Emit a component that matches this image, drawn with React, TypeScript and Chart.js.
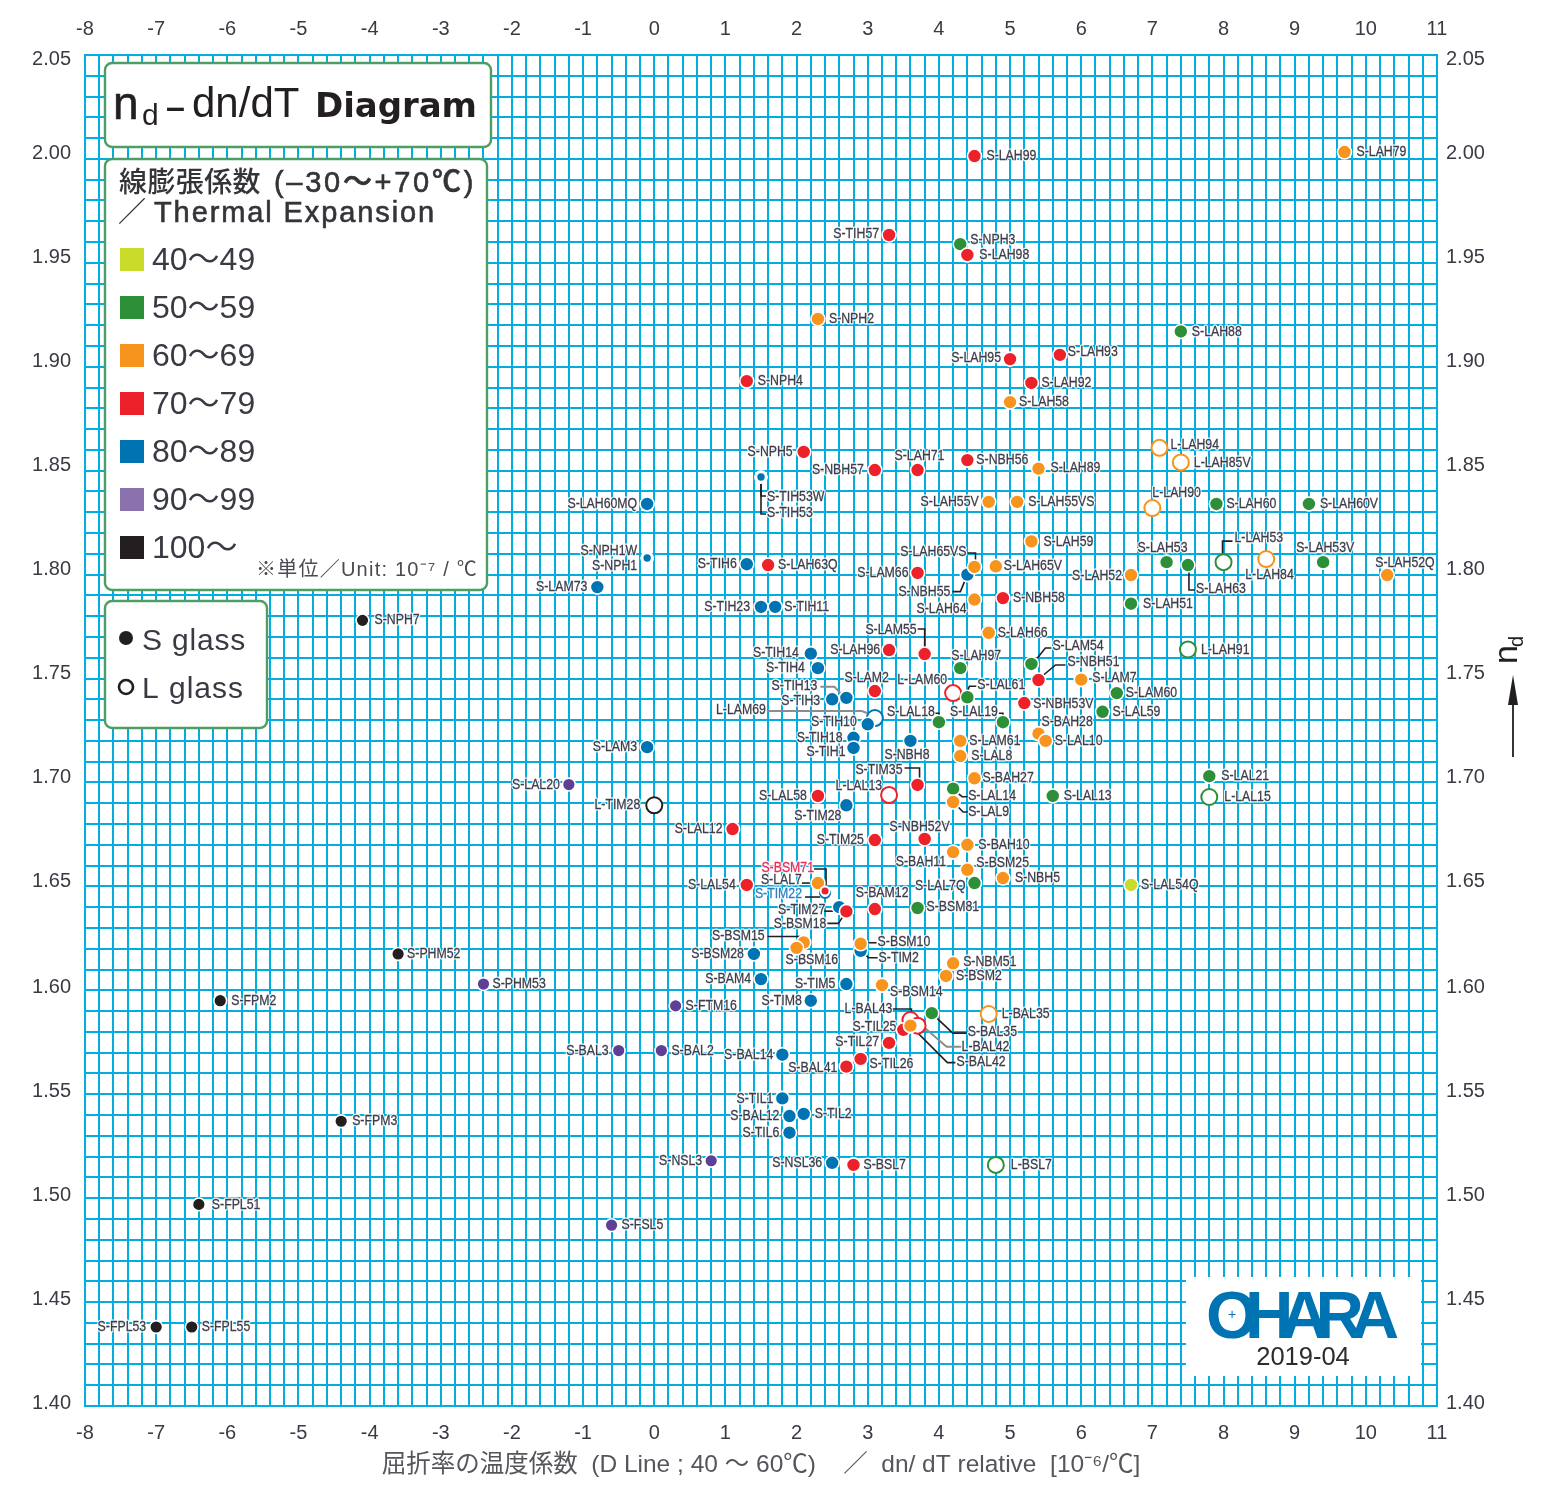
import React, { useEffect, useRef } from "react";
import { Chart, registerables } from "chart.js";

Chart.register(...registerables);

type Glass = [string, number, number]; // name, dn/dT relative, nd

const sExp40: Glass[] = [["S-LAL54Q", 6.7, 1.6507]];

const sExp50: Glass[] = [
  ["S-NPH3", 4.3, 1.959], ["S-LAH88", 7.4, 1.917], ["S-LAH60", 7.9, 1.834], ["S-LAH60V", 9.2, 1.834],
  ["S-LAH53", 7.2, 1.806], ["S-LAH63", 7.5, 1.8046], ["S-LAH53V", 9.4, 1.806], ["S-LAH51", 6.7, 1.786],
  ["S-LAM54", 5.3, 1.757], ["S-LAH97", 4.3, 1.755], ["S-LAL61", 4.4, 1.741], ["S-LAM60", 6.5, 1.743],
  ["S-LAL59", 6.3, 1.734], ["S-LAL18", 4.0, 1.729], ["S-LAL19", 4.9, 1.729], ["S-LAL21", 7.8, 1.703],
  ["S-LAL14", 4.2, 1.697], ["S-LAL13", 5.6, 1.6935], ["S-LAL7Q", 4.5, 1.6516], ["S-BSM81", 3.7, 1.6396],
  ["S-BAL35", 3.9, 1.589],
];

const sExp60: Glass[] = [
  ["S-LAH79", 9.7, 2.0033], ["S-NPH2", 2.3, 1.923], ["S-LAH58", 5.0, 1.883], ["S-LAH89", 5.4, 1.851],
  ["S-LAH55V", 4.7, 1.835], ["S-LAH55VS", 5.1, 1.835], ["S-LAH59", 5.3, 1.816], ["S-LAH65VS", 4.5, 1.8037],
  ["S-LAH65V", 4.8, 1.804], ["S-LAH64", 4.5, 1.788], ["S-LAH66", 4.7, 1.772], ["S-LAH52", 6.7, 1.7998],
  ["S-LAH52Q", 10.3, 1.7998], ["S-LAM7", 6.0, 1.7495], ["S-BAH28", 5.4, 1.7235], ["S-LAL10", 5.5, 1.72],
  ["S-LAM61", 4.3, 1.72], ["S-LAL8", 4.3, 1.7127], ["S-BAH27", 4.5, 1.702], ["S-LAL9", 4.2, 1.6906],
  ["S-BAH10", 4.4, 1.67], ["S-BAH11", 4.2, 1.6665], ["S-BSM25", 4.4, 1.658], ["S-NBH5", 4.9, 1.654],
  ["S-LAL7", 2.3, 1.6516], ["S-BSM15", 2.1, 1.623], ["S-BSM16", 2.0, 1.6204], ["S-BSM10", 2.9, 1.6224],
  ["S-NBM51", 4.2, 1.613], ["S-BSM2", 4.1, 1.6069], ["S-BSM14", 3.2, 1.6025], ["S-BAL42", 3.6, 1.583],
];

const sExp70: Glass[] = [
  ["S-LAH99", 4.5, 2.0014], ["S-TIH57", 3.3, 1.9634], ["S-LAH98", 4.4, 1.9538], ["S-NPH4", 1.3, 1.8931],
  ["S-LAH95", 5.0, 1.9037], ["S-LAH93", 5.7, 1.9057], ["S-LAH92", 5.3, 1.8922], ["S-NPH5", 2.1, 1.859],
  ["S-NBH57", 3.1, 1.8503], ["S-LAH71", 3.7, 1.8503], ["S-NBH56", 4.4, 1.8551], ["S-LAH63Q", 1.6, 1.8046],
  ["S-LAM66", 3.7, 1.8008], ["S-NBH58", 4.9, 1.7887], ["S-LAH96", 3.3, 1.7637], ["S-LAM55", 3.8, 1.7618],
  ["S-NBH51", 5.4, 1.7493], ["S-LAM2", 3.1, 1.744], ["S-NBH53V", 5.2, 1.7382], ["S-LAL58", 2.3, 1.6935],
  ["S-TIM35", 3.7, 1.6988], ["S-LAL12", 1.1, 1.6776], ["S-NBH52V", 3.8, 1.6728], ["S-TIM25", 3.1, 1.6723],
  ["S-LAL54", 1.3, 1.6507], ["S-BAM12", 3.1, 1.6391], ["S-BSM18", 2.7, 1.638], ["S-TIL25", 3.5, 1.581],
  ["S-TIL27", 3.3, 1.5747], ["S-TIL26", 2.9, 1.567], ["S-BAL41", 2.7, 1.5633], ["S-BSL7", 2.8, 1.516],
];

const sExp80: Glass[] = [
  ["S-LAH60MQ", -0.1, 1.834], ["S-LAM73", -0.8, 1.794], ["S-TIH6", 1.3, 1.805], ["S-TIH23", 1.5, 1.7845],
  ["S-TIH11", 1.7, 1.7845], ["S-NBH55", 4.4, 1.8], ["S-TIH14", 2.2, 1.762], ["S-TIH4", 2.3, 1.755],
  ["S-TIH3", 2.5, 1.74], ["S-TIH13", 2.7, 1.7407], ["S-TIH10", 3.0, 1.728], ["S-TIH18", 2.8, 1.7215],
  ["S-TIH1", 2.8, 1.7166], ["S-NBH8", 3.6, 1.72], ["S-LAM3", -0.1, 1.717], ["S-TIM28", 2.7, 1.689],
  ["S-TIM27", 2.6, 1.64], ["S-BSM28", 1.4, 1.6175], ["S-TIM2", 2.9, 1.619], ["S-BAM4", 1.5, 1.6054],
  ["S-TIM5", 2.7, 1.603], ["S-TIM8", 2.2, 1.595], ["S-BAL14", 1.8, 1.569], ["S-TIL1", 1.8, 1.548],
  ["S-BAL12", 1.9, 1.5395], ["S-TIL2", 2.1, 1.5405], ["S-TIL6", 1.9, 1.5315], ["S-NSL36", 2.5, 1.517],
];

const sExp90: Glass[] = [
  ["S-LAL20", -1.2, 1.699], ["S-PHM53", -2.4, 1.603], ["S-FTM16", 0.3, 1.5925], ["S-BAL3", -0.5, 1.571],
  ["S-BAL2", 0.1, 1.571], ["S-NSL3", 0.8, 1.518], ["S-FSL5", -0.6, 1.487],
];

const sExp100: Glass[] = [
  ["S-NPH7", -4.1, 1.778], ["S-PHM52", -3.6, 1.6175], ["S-FPM2", -6.1, 1.595], ["S-FPM3", -4.4, 1.537],
  ["S-FPL51", -6.4, 1.497], ["S-FPL53", -7.0, 1.438], ["S-FPL55", -6.5, 1.438],
];

const sTiny70: Glass[] = [["S-BSM71", 2.4, 1.6478]];
const sTiny80: Glass[] = [
  ["S-TIH53W", 1.5, 1.847], ["S-TIH53", 1.5, 1.847], ["S-NPH1W", -0.1, 1.808], ["S-NPH1", -0.1, 1.808],
];

const lExp50: Glass[] = [
  ["L-LAH53", 8.0, 1.806], ["L-LAH91", 7.5, 1.764], ["L-LAL15", 7.8, 1.693], ["L-BSL7", 4.8, 1.516],
];
const lExp60: Glass[] = [
  ["L-LAH94", 7.1, 1.861], ["L-LAH85V", 7.4, 1.854], ["L-LAH90", 7.0, 1.832], ["L-LAH84", 8.6, 1.8075],
  ["L-BAL35", 4.7, 1.5886],
];
const lExp70: Glass[] = [
  ["L-LAM60", 4.2, 1.743], ["L-LAL13", 3.3, 1.694], ["L-BAL43", 3.6, 1.5857], ["L-BAL42", 3.7, 1.583],
];
const lExp80: Glass[] = [["L-LAM69", 3.1, 1.731]];
const lTiny80: Glass[] = [["S-TIM22", 2.4, 1.6468]];
const lExp100: Glass[] = [["L-TIM28", 0, 1.689]];

const expansionClasses = ["40～49", "50～59", "60～69", "70～79", "80～89", "90～99", "100～"];

// ---------- styles and layout (kept apart from the values) ----------
const COLORS = {
  c40: "#cadb2a", c50: "#2d9039", c60: "#f7941e", c70: "#ed2129", c80: "#0073b2",
  c90: "#5f3f96", c100: "#231f20", grid: "#00aee0", text: "#333338", panel: "#4c9e63",
};
const legendSwatches = ["#cadb2a", "#2d9039", "#f7941e", "#ed2129", "#0073b2", "#8a72ae", "#231f20"];
const AREA = { left: 85, top: 55, right: 1437, bottom: 1406 };
const SANS = '"Liberation Sans", "Noto Sans CJK JP", sans-serif';
const CJK = '"Noto Sans CJK JP", "Liberation Sans", sans-serif';

// tick label nudges on the y axes, in px
const yLabelShift: Record<string, number> = {
  "2.05": 4, "2.00": -5.5, "1.95": -5.5, "1.90": -5.5, "1.85": -5.5, "1.80": -5.6, "1.75": -5.5, "1.70": -5,
  "1.65": -5.4, "1.60": -3, "1.55": -3, "1.50": -3, "1.45": -3, "1.40": -3,
};

// name: [side the text grows from, dx, dy] relative to the marker
type Place = ["l" | "r", number, number];
const labelPlace: Record<string, Place> = {
  "S-NPH7": ["l", 12, 0], "S-PHM52": ["l", 9, 0], "S-FPM2": ["l", 11, 0], "S-FPM3": ["l", 11, 0],
  "S-FPL51": ["l", 13, 0], "S-FPL53": ["r", -10, 0], "S-FPL55": ["l", 10, 0], "L-TIM28": ["r", -14, 0],
  "S-LAL20": ["r", -9, 0], "S-PHM53": ["l", 9, 0], "S-FTM16": ["l", 10, 0], "S-BAL3": ["r", -10, 0],
  "S-BAL2": ["l", 10, 0], "S-NSL3": ["r", -9, 0], "S-FSL5": ["l", 10, 0],
  "S-LAH99": ["l", 12, 0], "S-TIH57": ["r", -10, -1], "S-LAH98": ["l", 12, 0], "S-NPH4": ["l", 11, 0],
  "S-LAH95": ["r", -9, -1], "S-LAH93": ["l", 8, -3], "S-LAH92": ["l", 10, 0], "S-NPH5": ["r", -11, 0],
  "S-NBH57": ["r", -11, 0], "S-LAH71": ["l", -23, -14], "S-NBH56": ["l", 9, 0], "S-LAH63Q": ["l", 10, 0],
  "S-LAM66": ["r", -9, 0], "S-NBH58": ["l", 10, 0], "S-LAH96": ["r", -9, 0], "S-LAM55": ["r", -8, -24],
  "S-NBH51": ["l", 29, -18], "S-LAM2": ["r", 14, -13], "L-LAM60": ["r", -6, -13], "S-NBH53V": ["l", 9, 1],
  "S-LAL58": ["r", -11, 0], "S-TIM35": ["r", -15, -15], "L-LAL13": ["r", -7, -9], "S-LAL12": ["r", -10, 0],
  "S-NBH52V": ["r", 25, -12], "S-TIM25": ["r", -11, 0], "S-LAL54": ["r", -11, 0], "S-BSM71": ["r", -11, -23],
  "S-BAM12": ["l", -19, -16], "S-BSM18": ["r", -20, 13], "S-TIL25": ["r", -7, -3], "S-TIL27": ["r", -10, -1],
  "S-TIL26": ["l", 9, 5], "S-BAL41": ["r", -9, 1], "S-BSL7": ["l", 10, 0], "L-BAL43": ["r", -18, -11],
  "L-BAL42": ["l", 44, 21],
  "S-LAH79": ["l", 12, 0], "S-NPH2": ["l", 11, 0], "S-LAH58": ["l", 9, 0], "S-LAH89": ["l", 12, -1],
  "L-LAH94": ["l", 11, -3], "L-LAH85V": ["l", 13, 0], "L-LAH90": ["l", 0, -15], "S-LAH55V": ["r", -10, 0],
  "S-LAH55VS": ["l", 11, 0], "S-LAH59": ["l", 12, 0], "S-LAH65VS": ["r", -8, -15], "S-LAH65V": ["l", 8, 0],
  "S-LAH64": ["r", -8, 9], "S-LAH66": ["l", 9, 0], "S-LAH52": ["r", -9, 1], "S-LAH52Q": ["l", -12, -12],
  "S-LAM7": ["l", 11, -2], "S-BAH28": ["l", 3, -12], "S-LAL10": ["l", 9, 0], "S-LAM61": ["l", 9, 0],
  "S-LAL8": ["l", 11, 0], "S-BAH27": ["l", 8, 0], "S-LAL9": ["l", 15, 10], "S-BAH10": ["l", 11, 0],
  "S-BAH11": ["r", -7, 10], "S-BSM25": ["l", 9, -7], "S-NBH5": ["l", 12, 0], "S-LAL7": ["r", -16, -3],
  "S-BSM15": ["r", -39, -7], "S-BSM16": ["l", -11, 12], "S-BSM10": ["l", 17, -2], "S-NBM51": ["l", 10, -1],
  "S-BSM2": ["l", 10, 0], "S-BSM14": ["l", 8, 7], "L-BAL35": ["l", 13, 0], "S-BAL42": ["l", 46, 36],
  "L-LAH84": ["l", -21, 16],
  "S-NPH3": ["l", 10, -4], "S-LAH88": ["l", 11, 0], "S-LAH60": ["l", 10, 0], "S-LAH60V": ["l", 11, 0],
  "S-LAH53": ["l", -29, -14], "S-LAH63": ["l", 8, 24], "L-LAH53": ["l", 11, -24], "S-LAH53V": ["l", -27, -14],
  "S-LAH51": ["l", 12, 0], "L-LAH91": ["l", 13, 0], "S-LAM54": ["l", 21, -18], "S-LAH97": ["l", -9, -12],
  "S-LAL61": ["l", 10, -12], "S-LAM60": ["l", 9, 0], "S-LAL59": ["l", 10, 0], "S-LAL18": ["r", -4, -10],
  "S-LAL19": ["r", -5, -10], "S-LAL21": ["l", 12, 0], "L-LAL15": ["l", 15, 0], "S-LAL14": ["l", 15, 7],
  "S-LAL13": ["l", 11, 0], "S-LAL7Q": ["r", -9, 3], "S-BSM81": ["l", 9, -1], "S-BAL35": ["l", 36, 19],
  "L-BSL7": ["l", 15, 0], "S-LAL54Q": ["l", 10, 0],
  "S-TIH53W": ["l", 6, 20], "S-TIH53": ["l", 6, 36], "S-LAH60MQ": ["r", -10, 0], "S-NPH1W": ["r", -10, -7],
  "S-NPH1": ["r", -10, 8], "S-LAM73": ["r", -10, 0], "S-TIH6": ["r", -10, 0], "S-TIH23": ["r", -11, 0],
  "S-TIH11": ["l", 9, 0], "S-NBH55": ["r", -17, 17], "S-TIH14": ["r", -12, -1], "S-TIH4": ["r", -13, 0],
  "S-TIH3": ["r", -12, 2], "S-TIH13": ["r", -29, -12], "L-LAM69": ["r", -109, -8], "S-TIH10": ["r", -11, -2],
  "S-TIH18": ["r", -11, 0], "S-TIH1": ["r", -8, 4], "S-NBH8": ["l", -26, 14], "S-LAM3": ["r", -10, 0],
  "S-TIM28": ["r", -5, 11], "S-TIM22": ["r", -23, 1], "S-TIM27": ["r", -14, 3], "S-BSM28": ["r", -10, 0],
  "S-TIM2": ["l", 18, 7], "S-BAM4": ["r", -10, 0], "S-TIM5": ["r", -11, 0], "S-TIM8": ["r", -9, 0],
  "S-BAL14": ["r", -9, 0], "S-TIL1": ["r", -9, 0], "S-BAL12": ["r", -10, 0], "S-TIL2": ["l", 11, 0],
  "S-TIL6": ["r", -10, 0], "S-NSL36": ["r", -10, 0],
};

// leader lines: polyline offsets from the marker, in px
const leaderPaths: Record<string, number[][]> = {
  "S-TIH53W": [[0, 6], [0, 19], [5, 19]], "S-TIH53": [[0, 6], [0, 37], [5, 37]],
  "S-BSM71": [[-11, -22], [1, -22], [1, -6]], "S-LAL7": [[-16, 0], [-8, 0]], "S-TIM22": [[-20, 4], [-5, 4]],
  "S-TIM27": [[-15, 4], [-3, 4]], "S-BSM18": [[-19, 12], [-8, 12], [-4, 6]],
  "S-BSM15": [[-36, -6], [-4, -6], [-1, -3]], "S-BSM10": [[4, -1], [16, -1]],
  "S-TIM2": [[3, 2], [8, 7], [17, 7]], "L-BAL43": [[-18, -11], [1, -11], [1, -8]],
  "S-BAL35": [[4, 4], [21, 20], [35, 20]], "L-BAL42": [[7, 2], [29, 21], [44, 21]],
  "S-BAL42": [[2, 2], [37, 37], [45, 37]], "S-LAM55": [[-7, -25], [0, -25], [0, -6]],
  "S-LAH65VS": [[-7, -14], [1, -14], [1, -7]], "S-NBH55": [[-15, 17], [-7, 17], [-2, 5]],
  "S-LAM54": [[6, -6], [14, -16], [20, -16]], "S-NBH51": [[5, -5], [17, -15], [27, -15]],
  "S-LAL61": [[0, -5], [2, -11], [9, -11]], "S-LAL18": [[-4, -9], [0, -9], [0, -5]],
  "S-LAL19": [[-4, -9], [0, -9], [0, -5]], "S-TIH13": [[-26, -11], [-12, -11], [-4, -3]],
  "L-LAM69": [[-108, -7], [-13, -7], [-8, -5]], "S-TIM35": [[-13, -17], [2, -17], [2, -7]],
  "S-LAL14": [[4, 4], [9, 8], [15, 8]], "S-LAL9": [[4, 4], [10, 10], [15, 10]],
  "S-LAH63": [[1, 5], [1, 25], [7, 25]], "L-LAH53": [[-1, -9], [-1, -21], [9, -21]],
};
const greyLeaders = ["L-BAL42", "L-LAM69", "S-TIH13"];
const labelTint: Record<string, string> = { "S-BSM71": "#ed2a55", "S-TIM22": "#2f80c4" };

function solid(rows: Glass[], color: string, order: number, radius = 7, border = 1.6) {
  return {
    data: rows.map(([name, x, y]) => ({ x, y, name })),
    order,
    showLine: false,
    pointRadius: radius,
    pointHoverRadius: radius,
    pointBackgroundColor: color,
    pointBorderColor: "#ffffff",
    pointBorderWidth: border,
  };
}
function ring(rows: Glass[], color: string, order: number, radius = 8) {
  return {
    data: rows.map(([name, x, y]) => ({ x, y, name })),
    order,
    showLine: false,
    pointRadius: radius,
    pointHoverRadius: radius,
    pointBackgroundColor: "#ffffff",
    pointBorderColor: color,
    pointBorderWidth: 2,
  };
}

function fitText(
  ctx: CanvasRenderingContext2D,
  text: string,
  x: number,
  y: number,
  width: number,
  heavy = 0,
) {
  const c = ctx as any;
  c.letterSpacing = "0px";
  const natural = ctx.measureText(text).width;
  const count = Array.from(text).length;
  c.letterSpacing = `${(width - natural) / count}px`;
  if (heavy) {
    ctx.lineWidth = heavy;
    ctx.strokeStyle = ctx.fillStyle as string;
    ctx.strokeText(text, x, y);
  }
  ctx.fillText(text, x, y);
  c.letterSpacing = "0px";
}

function panel(ctx: CanvasRenderingContext2D, x0: number, y0: number, x1: number, y1: number) {
  ctx.beginPath();
  ctx.roundRect(x0, y0, x1 - x0, y1 - y0, 7);
  ctx.fillStyle = "#ffffff";
  ctx.fill();
  ctx.lineWidth = 2.4;
  ctx.strokeStyle = COLORS.panel;
  ctx.stroke();
}

function drawPanels(ctx: CanvasRenderingContext2D) {
  ctx.textAlign = "left";
  ctx.textBaseline = "alphabetic";

  panel(ctx, 105, 63, 491, 147);
  ctx.fillStyle = "#231f20";
  ctx.font = `46px ${SANS}`;
  ctx.lineWidth = 0.6;
  ctx.strokeStyle = "#231f20";
  ctx.strokeText("n", 113, 119);
  ctx.fillText("n", 113, 119);
  ctx.font = `30px ${SANS}`;
  ctx.fillText("d", 142, 125);
  ctx.font = `bold 34px ${SANS}`;
  ctx.fillText("–", 166, 118);
  ctx.font = `42px ${SANS}`;
  ctx.fillText("dn/dT", 192, 117);
  ctx.font = 'bold 34px "DejaVu Sans"';
  fitText(ctx, "Diagram", 315, 117, 162);

  panel(ctx, 105, 159, 487, 590);
  ctx.fillStyle = "#333338";
  ctx.font = `500 28px ${CJK}`;
  fitText(ctx, "線膨張係数", 119, 192, 142);
  ctx.font = `500 29px ${SANS}`;
  fitText(ctx, "(–30～+70℃)", 274, 192, 202, 0.6);
  ctx.font = `500 28px ${CJK}`;
  ctx.fillText("／", 118, 222);
  ctx.font = `500 29px ${SANS}`;
  fitText(ctx, "Thermal Expansion", 154, 222, 282, 0.6);

  expansionClasses.forEach((label, i) => {
    const top = 248 + i * 48;
    ctx.fillStyle = legendSwatches[i];
    ctx.fillRect(120, top, 24, 23);
    ctx.fillStyle = "#3a3a44";
    ctx.font = `32px ${SANS}`;
    ctx.fillText(label, 152, top + 22);
  });

  ctx.fillStyle = "#4a4a52";
  ctx.font = `20px ${SANS}`;
  fitText(ctx, "※単位／Unit: 10⁻⁷ / ℃", 256, 576, 222);

  panel(ctx, 105, 601, 267, 728);
  ctx.fillStyle = "#231f20";
  ctx.beginPath();
  ctx.arc(126, 638, 7, 0, Math.PI * 2);
  ctx.fill();
  ctx.lineWidth = 2.6;
  ctx.strokeStyle = "#231f20";
  ctx.beginPath();
  ctx.arc(126, 687, 7, 0, Math.PI * 2);
  ctx.stroke();
  ctx.fillStyle = "#3a3a44";
  ctx.font = `30px ${SANS}`;
  fitText(ctx, "S glass", 142, 650, 104);
  fitText(ctx, "L glass", 142, 698, 102);

  // logo block
  ctx.fillStyle = "#ffffff";
  ctx.fillRect(1186, 1277, 235, 99);
  ctx.fillStyle = COLORS.c80;
  ctx.font = `bold 67px ${SANS}`;
  fitText(ctx, "OHARA", 1206, 1338, 180);
  ctx.font = `14px ${SANS}`;
  ctx.textAlign = "center";
  ctx.fillText("+", 1232, 1319);
  ctx.fillStyle = "#2b2b30";
  ctx.font = `25.5px ${SANS}`;
  ctx.fillText("2019-04", 1303, 1365);
  ctx.textAlign = "left";
}

function drawAxisMark(ctx: CanvasRenderingContext2D) {
  ctx.save();
  ctx.fillStyle = "#231f20";
  ctx.translate(1517, 664);
  ctx.rotate(-Math.PI / 2);
  ctx.textAlign = "left";
  ctx.textBaseline = "alphabetic";
  ctx.font = `34px ${SANS}`;
  ctx.fillText("n", 0, 0);
  ctx.font = `20px ${SANS}`;
  ctx.fillText("d", 17, 6);
  ctx.restore();
  ctx.strokeStyle = "#231f20";
  ctx.lineWidth = 1.8;
  ctx.beginPath();
  ctx.moveTo(1513, 757);
  ctx.lineTo(1513, 700);
  ctx.stroke();
  ctx.fillStyle = "#231f20";
  ctx.beginPath();
  ctx.moveTo(1513, 675);
  ctx.lineTo(1518, 705);
  ctx.lineTo(1508, 705);
  ctx.closePath();
  ctx.fill();
}

const overlays = {
  id: "overlays",
  beforeDraw(chart: any) {
    ["y", "y2"].forEach((id) => {
      const scale = chart.scales[id];
      scale.getLabelItems().forEach((item: any) => {
        const shift = yLabelShift[String(item.label)];
        if (shift !== undefined) {
          item.options.translation = [item.options.translation[0], item.options.translation[1] + shift];
        }
      });
    });
  },
  beforeDatasetsDraw(chart: any) {
    const ctx: CanvasRenderingContext2D = chart.ctx;
    ctx.save();
    drawPanels(ctx);
    drawAxisMark(ctx);

    const marks: { name: string; x: number; y: number }[] = [];
    chart.data.datasets.forEach((ds: any, i: number) => {
      const meta = chart.getDatasetMeta(i);
      ds.data.forEach((d: any, j: number) => {
        marks.push({ name: d.name, x: meta.data[j].x, y: meta.data[j].y });
      });
    });

    // leaders
    marks.forEach(({ name, x, y }) => {
      const path = leaderPaths[name];
      if (!path) return;
      const grey = greyLeaders.includes(name);
      ctx.strokeStyle = grey ? "#8c8c8c" : "#231f20";
      ctx.lineWidth = grey ? 2 : 1.6;
      ctx.lineJoin = "miter";
      ctx.beginPath();
      path.forEach(([dx, dy], k) => (k ? ctx.lineTo(x + dx, y + dy) : ctx.moveTo(x + dx, y + dy)));
      ctx.stroke();
    });

    // names, squeezed to the narrow face of the original
    ctx.font = `15px ${SANS}`;
    ctx.textBaseline = "middle";
    ctx.lineJoin = "round";
    marks.forEach(({ name, x, y }) => {
      const [side, dx, dy] = labelPlace[name] || (["l", 10, 0] as Place);
      ctx.save();
      ctx.translate(x + dx, y + dy);
      ctx.scale(0.82, 1);
      ctx.textAlign = side === "l" ? "left" : "right";
      ctx.strokeStyle = "rgba(255,255,255,0.9)";
      ctx.lineWidth = 3;
      ctx.strokeText(name, 0, 0);
      ctx.fillStyle = labelTint[name] || "#3c3c4a";
      ctx.strokeStyle = ctx.fillStyle as string;
      ctx.lineWidth = 0.3;
      ctx.strokeText(name, 0, 0);
      ctx.fillText(name, 0, 0);
      ctx.restore();
    });
    ctx.restore();
  },
};

const xTick = (v: number | string) => {
  const n = Number(v);
  return Math.abs(n - Math.round(n)) < 1e-6 ? String(Math.round(n)) : "";
};
const yTick = (v: number | string) => {
  const h = Math.round(Number(v) * 100);
  return h % 5 === 0 ? (h / 100).toFixed(2) : "";
};

export default function App() {
  const ref = useRef<HTMLCanvasElement>(null);
  useEffect(() => {
    if (!ref.current) return;
    const tickFont = { family: SANS, size: 20 };
    const xBase = { type: "linear", min: -8, max: 11, offset: false };
    const yBase = { type: "linear", min: 1.4, max: 2.05, offset: false };
    const tickCommon = { autoSkip: false, maxRotation: 0, minRotation: 0, color: "#3a3a44", font: tickFont };
    const chart = new Chart(ref.current, {
      type: "scatter",
      plugins: [overlays],
      data: {
        datasets: [
          solid(sTiny70, COLORS.c70, 0, 4.5, 2),
          ring(lTiny80, COLORS.c80, 1, 5),
          solid(sExp100, COLORS.c100, 2, 6.4),
          solid(sExp90, COLORS.c90, 3, 6.4),
          solid(sTiny80, COLORS.c80, 4, 5.2, 3),
          solid(sExp60, COLORS.c60, 5),
          solid(sExp70, COLORS.c70, 6),
          solid(sExp40, COLORS.c40, 7),
          solid(sExp50, COLORS.c50, 8),
          solid(sExp80, COLORS.c80, 9),
          ring(lExp100, COLORS.c100, 10),
          ring(lExp50, COLORS.c50, 11),
          ring(lExp60, COLORS.c60, 12),
          ring(lExp70, COLORS.c70, 13),
          ring(lExp80, COLORS.c80, 14),
        ] as any,
      },
      options: {
        responsive: false,
        animation: false,
        devicePixelRatio: 1,
        layout: { padding: 0 },
        plugins: { legend: { display: false }, tooltip: { enabled: false } },
        events: [],
        scales: {
          x: {
            ...xBase,
            position: "bottom",
            afterFit: (s: any) => { s.height = 1489 - AREA.bottom; },
            grid: { color: COLORS.grid, lineWidth: 2, drawTicks: false },
            border: { color: COLORS.grid, width: 2 },
            ticks: { ...tickCommon, stepSize: 0.2, padding: 15, callback: xTick },
            title: {
              display: true,
              text: "屈折率の温度係数  (D Line ; 40 ～ 60℃)    ／  dn/ dT relative  [10⁻⁶/℃]",
              color: "#55555c",
              font: { family: SANS, size: 24.5 },
              padding: { top: 0, bottom: 9 },
            },
          },
          x2: {
            ...xBase,
            position: "top",
            afterFit: (s: any) => { s.height = AREA.top; },
            grid: { display: false, drawTicks: false },
            border: { color: COLORS.grid, width: 2 },
            ticks: { ...tickCommon, stepSize: 0.2, padding: 14, callback: xTick },
          },
          y: {
            ...yBase,
            position: "left",
            afterFit: (s: any) => { s.width = AREA.left; },
            grid: { color: COLORS.grid, lineWidth: 2, drawTicks: false },
            border: { color: COLORS.grid, width: 2 },
            ticks: { ...tickCommon, stepSize: 0.01, padding: 14, callback: yTick },
          },
          y2: {
            ...yBase,
            position: "right",
            afterFit: (s: any) => { s.width = 1551 - AREA.right; },
            grid: { display: false, drawTicks: false },
            border: { color: COLORS.grid, width: 2 },
            ticks: { ...tickCommon, stepSize: 0.01, padding: 9, callback: yTick },
          },
        },
      } as any,
    });
    return () => chart.destroy();
  }, []);
  return (
    <canvas
      ref={ref}
      width={1551}
      height={1489}
      style={{ position: "absolute", left: 0, top: 0, display: "block" }}
    />
  );
}
